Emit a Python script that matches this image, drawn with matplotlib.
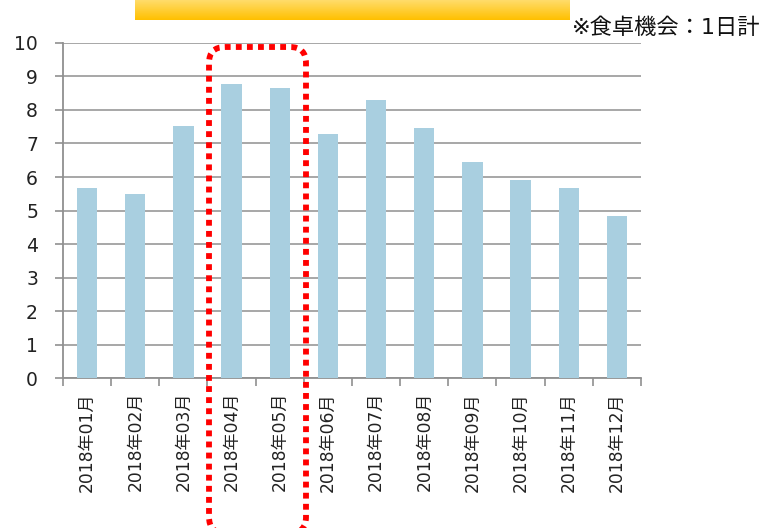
import numpy as np
import matplotlib.pyplot as plt
from matplotlib.patches import FancyBboxPatch
from matplotlib.colors import LinearSegmentedColormap

plt.rcParams['font.family'] = ['DejaVu Sans', 'Noto Sans CJK JP']

months = ['2018年01月', '2018年02月', '2018年03月', '2018年04月', '2018年05月', '2018年06月',
          '2018年07月', '2018年08月', '2018年09月', '2018年10月', '2018年11月', '2018年12月']
values = [5.67, 5.49, 7.52, 8.78, 8.66, 7.28, 8.30, 7.46, 6.45, 5.91, 5.67, 4.84]
yticks = list(range(0, 11))
note = '※食卓機会：1日計'

fig = plt.figure(figsize=(7.66, 5.28), dpi=100)
ax = fig.add_axes([0.0822, 0.284, 0.7546, 0.6346])

x = np.arange(len(months))
ax.bar(x, values, width=0.42, color='#A9CFE0', zorder=3)
ax.set_xlim(-0.5, len(months) - 0.5)
ax.set_ylim(0, 10)
ax.set_yticks(yticks)
ax.set_yticklabels([str(v) for v in yticks], fontsize=13.5, color='#222222')
ax.yaxis.grid(True, color='#A0A0A0', linewidth=1.3, zorder=0)
ax.set_xticks(x)
ax.set_xticklabels(months, rotation=90, fontsize=12.3, color='#222222')
ax.set_xticks(np.arange(-0.5, len(months)), minor=True)
ax.tick_params(axis='x', which='major', length=0, pad=10)
ax.tick_params(axis='x', which='minor', length=6, color='#909090', width=1.2)
ax.tick_params(axis='y', length=6, color='#909090', width=1.2, pad=12)
for side in ['top', 'right']:
    ax.spines[side].set_visible(False)
for side in ['left', 'bottom']:
    ax.spines[side].set_color('#909090')
    ax.spines[side].set_linewidth(1.3)

# gold banner at top
bax = fig.add_axes([135 / 766, 1 - 20 / 528, 435 / 766, 20 / 528])
grad = np.linspace(0, 1, 50).reshape(-1, 1)
cmap = LinearSegmentedColormap.from_list('gold', ['#FFDC6A', '#FFC000'])
bax.imshow(grad, aspect='auto', cmap=cmap, extent=[0, 1, 0, 1], origin='upper')
bax.axis('off')

fig.text(572 / 766, 1 - 28 / 528, note, fontsize=16, va='center', ha='left', color='#111111')

# red dotted rounded highlight
box = FancyBboxPatch((2.09, -0.05), 0.97, 4.86, boxstyle='round,pad=0,rounding_size=0.16',
                     transform=fig.dpi_scale_trans, fill=False, edgecolor='#FF0000',
                     linewidth=4.2, linestyle=(0, (1, 0.9)), capstyle='butt', clip_on=False, zorder=10)
fig.add_artist(box)

fig.savefig('out.png', dpi=100)
